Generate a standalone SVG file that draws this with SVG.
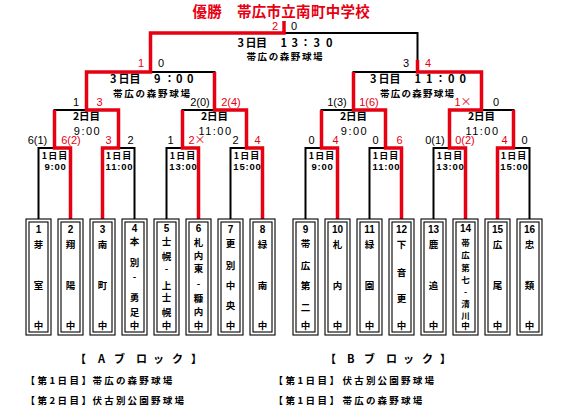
<svg xmlns="http://www.w3.org/2000/svg" width="561" height="413" viewBox="0 0 561 413">
<style>
.bk{fill:none;stroke:#000;stroke-width:2}
.rd{fill:none;stroke:#e60012;stroke-width:3.5;stroke-linejoin:miter}
.box{fill:#fff;stroke:#000;stroke-width:1.1}
.sc{font-family:"Liberation Sans",Arial,sans-serif;font-size:11px;text-anchor:middle;fill:#000}
.jp{font-family:"Noto Sans CJK JP","Noto Sans",sans-serif;font-weight:bold;fill:#000}
.t3{font-size:11px}
.vn{font-size:9.5px}
.d2{font-size:10.5px;text-anchor:middle}
.tm2{font-family:"Liberation Sans",Arial,sans-serif;font-size:11px;text-anchor:middle;letter-spacing:1.5px}
.d1{font-size:9px;text-anchor:middle;letter-spacing:1px}
.tm1{font-family:"Liberation Sans",Arial,sans-serif;font-weight:bold;font-size:9.5px;text-anchor:middle;letter-spacing:0.8px}
.team{font-family:"Noto Sans CJK JP","Noto Sans",sans-serif;font-weight:bold;font-size:9.5px;text-anchor:middle;fill:#000}
.num{font-family:"Liberation Sans",Arial,sans-serif;font-weight:bold;font-size:10px}
.ft{font-size:9.5px;letter-spacing:2.5px}
.fv{font-size:9.5px;letter-spacing:2.2px}
.blk{font-size:11px}
.x{font-family:"Noto Sans CJK JP",sans-serif}
text.r,tspan.r{fill:#e60012}
</style>

<text id="title" class="jp r" x="192.5" y="16.5" style="font-size:14.5px;letter-spacing:0.3px">優勝　帯広市立南町中学校</text>

<g id="connectors">
  <g id="black-lines">
    <path class="bk" d="M38.5 219V148H70.5V219M102.5 219V148H134.5V219M166.5 219V148H198.5V219M230.5 219V148H262.5V219"/>
    <path class="bk" d="M305.5 219V148H337.5V219M369.5 219V148H401.5V219M433.5 219V148H465.5V219M497.5 219V148H529.5V219"/>
    <path class="bk" d="M54.5 148V110H118.5V148M182.5 148V110H246.5V148M321.5 148V110H385.5V148M449.5 148V110H513.5V148"/>
    <path class="bk" d="M86.5 110V72H214.5V110M353.5 110V72H481.5V110"/>
    <path class="bk" d="M150.5 72V33H417.5V72"/>
  </g>
  <g id="red-lines">
    <path class="rd" d="M70.5 219V148H54.5V110"/>
    <path class="rd" d="M102.5 219V148H118.5V110H86.5V72H150.5V33H284V21"/>
    <path class="rd" d="M198.5 219V148H182.5V110"/>
    <path class="rd" d="M262.5 219V148H246.5V110H214.5V72"/>
    <path class="rd" d="M337.5 219V148H321.5V110"/>
    <path class="rd" d="M401.5 219V148H385.5V110H353.5V72"/>
    <path class="rd" d="M465.5 219V148H449.5V110H481.5V72H417.5V60"/>
    <path class="rd" d="M497.5 219V148H513.5V110"/>
  </g>
</g>

<g id="final">
  <text class="jp t3" x="237.5 245.5 256 267 280.5 291.5 300 313.5 326" y="46.5">3日目　13：30</text>
  <text class="jp vn" x="246.5" y="59.5" textLength="76" lengthAdjust="spacing">帯広の森野球場</text>
  <text class="sc r" x="275" y="29.5">2</text>
  <text class="sc" x="294" y="29.5">0</text>
</g>

<g id="semi-a">
  <text class="jp t3" x="110 118.5 129.5 140.5 154 164 176 187" y="83">3日目　9：00</text>
  <text class="jp vn" x="113" y="96.5" textLength="77" lengthAdjust="spacing">帯広の森野球場</text>
  <text class="sc r" x="141" y="67">1</text>
  <text class="sc" x="161" y="67">0</text>
</g>
<g id="semi-b">
  <text class="jp t3" x="370 378.5 389.5 400.5 414.5 426 435 448 459.5" y="83">3日目　11：00</text>
  <text class="jp vn" x="380" y="96.5" textLength="74" lengthAdjust="spacing">帯広の森野球場</text>
  <text class="sc" x="406" y="67">3</text>
  <text class="sc r" x="428" y="67">4</text>
</g>

<g id="r2-a1">
  <text class="jp d2" x="86.5" y="120">2日目</text>
  <text class="tm2" x="87.5" y="134.5">9:00</text>
  <text class="sc" x="76" y="106">1</text>
  <text class="sc r" x="99.5" y="106">3</text>
</g>
<g id="r2-a2">
  <text class="jp d2" x="214.5" y="120">2日目</text>
  <text class="tm2" x="215.5" y="134.5">11:00</text>
  <text class="sc" x="200" y="106">2(0)</text>
  <text class="sc r" x="231" y="106">2(4)</text>
</g>
<g id="r2-b1">
  <text class="jp d2" x="353.5" y="120">2日目</text>
  <text class="tm2" x="354.5" y="134.5">9:00</text>
  <text class="sc" x="337" y="106">1(3)</text>
  <text class="sc r" x="369" y="106">1(6)</text>
</g>
<g id="r2-b2">
  <text class="jp d2" x="481.5" y="120">2日目</text>
  <text class="tm2" x="482.5" y="134.5">11:00</text>
  <text class="sc r" x="463" y="106">1<tspan class="x">×</tspan></text>
  <text class="sc" x="496" y="106">0</text>
</g>

<g id="r1-1">
  <text class="jp d1" x="55" y="159">1日目</text>
  <text class="tm1" x="55.5" y="169.5">9:00</text>
  <text class="sc" x="37.5" y="144">6(1)</text>
  <text class="sc r" x="71" y="144">6(2)</text>
</g>
<g id="r1-2">
  <text class="jp d1" x="119" y="159">1日目</text>
  <text class="tm1" x="119.5" y="169.5">11:00</text>
  <text class="sc r" x="108.5" y="144">3</text>
  <text class="sc" x="130.5" y="144">2</text>
</g>
<g id="r1-3">
  <text class="jp d1" x="183" y="159">1日目</text>
  <text class="tm1" x="183.5" y="169.5">13:00</text>
  <text class="sc" x="170.5" y="144">1</text>
  <text class="sc r" x="197" y="144">2<tspan class="x">×</tspan></text>
</g>
<g id="r1-4">
  <text class="jp d1" x="247" y="159">1日目</text>
  <text class="tm1" x="247.5" y="169.5">15:00</text>
  <text class="sc" x="235.5" y="144">2</text>
  <text class="sc r" x="257.5" y="144">4</text>
</g>
<g id="r1-5">
  <text class="jp d1" x="322" y="159">1日目</text>
  <text class="tm1" x="322.5" y="169.5">9:00</text>
  <text class="sc" x="311.5" y="144">0</text>
  <text class="sc r" x="335.5" y="144">4</text>
</g>
<g id="r1-6">
  <text class="jp d1" x="386" y="159">1日目</text>
  <text class="tm1" x="386.5" y="169.5">11:00</text>
  <text class="sc" x="375.5" y="144">0</text>
  <text class="sc r" x="399.5" y="144">6</text>
</g>
<g id="r1-7">
  <text class="jp d1" x="450" y="159">1日目</text>
  <text class="tm1" x="450.5" y="169.5">13:00</text>
  <text class="sc" x="435" y="144">0(1)</text>
  <text class="sc r" x="465" y="144">0(2)</text>
</g>
<g id="r1-8">
  <text class="jp d1" x="514" y="159">1日目</text>
  <text class="tm1" x="514.5" y="169.5">15:00</text>
  <text class="sc r" x="504.5" y="144">4</text>
  <text class="sc" x="524.5" y="144">0</text>
</g>

<g id="team-1"><rect class="box" x="26" y="219" width="25" height="116"/><rect class="box" x="29" y="222" width="19" height="110"/>
<text class="team"><tspan class="num" x="38.5" y="232.5">1</tspan><tspan x="38.5" y="247.5">芽</tspan><tspan x="38.5" y="288.5">室</tspan><tspan x="38.5" y="328.5">中</tspan></text></g>
<g id="team-2"><rect class="box" x="58" y="219" width="25" height="116"/><rect class="box" x="61" y="222" width="19" height="110"/>
<text class="team"><tspan class="num" x="70.5" y="232.5">2</tspan><tspan x="70.5" y="247.5">翔</tspan><tspan x="70.5" y="288.5">陽</tspan><tspan x="70.5" y="328.5">中</tspan></text></g>
<g id="team-3"><rect class="box" x="90" y="219" width="25" height="116"/><rect class="box" x="93" y="222" width="19" height="110"/>
<text class="team"><tspan class="num" x="102.5" y="232.5">3</tspan><tspan x="102.5" y="247.5">南</tspan><tspan x="102.5" y="288.5">町</tspan><tspan x="102.5" y="328.5">中</tspan></text></g>
<g id="team-4"><rect class="box" x="122" y="219" width="25" height="116"/><rect class="box" x="125" y="222" width="19" height="110"/>
<text class="team"><tspan class="num" x="134.5" y="232">4</tspan><tspan x="134.5" y="245">本</tspan><tspan x="134.5" y="265.5">別</tspan><tspan x="134.5" y="280">-</tspan><tspan x="134.5" y="300.5">勇</tspan><tspan x="134.5" y="315.5">足</tspan><tspan x="134.5" y="328.5">中</tspan></text></g>
<g id="team-5"><rect class="box" x="154" y="219" width="25" height="116"/><rect class="box" x="157" y="222" width="19" height="110"/>
<text class="team"><tspan class="num" x="166.5" y="232">5</tspan><tspan x="166.5" y="244.5">士</tspan><tspan x="166.5" y="259.5">幌</tspan><tspan x="166.5" y="272">-</tspan><tspan x="166.5" y="288.5">上</tspan><tspan x="166.5" y="301">士</tspan><tspan x="166.5" y="315.5">幌</tspan><tspan x="166.5" y="328.5">中</tspan></text></g>
<g id="team-6"><rect class="box" x="186" y="219" width="25" height="116"/><rect class="box" x="189" y="222" width="19" height="110"/>
<text class="team"><tspan class="num" x="198.5" y="232">6</tspan><tspan x="198.5" y="246">札</tspan><tspan x="198.5" y="258.5">内</tspan><tspan x="198.5" y="271.5">東</tspan><tspan x="198.5" y="287">-</tspan><tspan x="198.5" y="301.5">糠</tspan><tspan x="198.5" y="315">内</tspan><tspan x="198.5" y="328.5">中</tspan></text></g>
<g id="team-7"><rect class="box" x="218" y="219" width="25" height="116"/><rect class="box" x="221" y="222" width="19" height="110"/>
<text class="team"><tspan class="num" x="230.5" y="232.5">7</tspan><tspan x="230.5" y="246.5">更</tspan><tspan x="230.5" y="268.5">別</tspan><tspan x="230.5" y="288.5">中</tspan><tspan x="230.5" y="308.5">央</tspan><tspan x="230.5" y="328.5">中</tspan></text></g>
<g id="team-8"><rect class="box" x="250" y="219" width="25" height="116"/><rect class="box" x="253" y="222" width="19" height="110"/>
<text class="team"><tspan class="num" x="262.5" y="232.5">8</tspan><tspan x="262.5" y="247.5">緑</tspan><tspan x="262.5" y="288.5">南</tspan><tspan x="262.5" y="328.5">中</tspan></text></g>
<g id="team-9"><rect class="box" x="293" y="219" width="25" height="116"/><rect class="box" x="296" y="222" width="19" height="110"/>
<text class="team"><tspan class="num" x="305.5" y="232.5">9</tspan><tspan x="305.5" y="246.5">帯</tspan><tspan x="305.5" y="268.5">広</tspan><tspan x="305.5" y="288.5">第</tspan><tspan x="305.5" y="310.5">二</tspan><tspan x="305.5" y="328.5">中</tspan></text></g>
<g id="team-10"><rect class="box" x="325" y="219" width="25" height="116"/><rect class="box" x="328" y="222" width="19" height="110"/>
<text class="team"><tspan class="num" x="337.5" y="232.5">10</tspan><tspan x="337.5" y="247.5">札</tspan><tspan x="337.5" y="288.5">内</tspan><tspan x="337.5" y="328.5">中</tspan></text></g>
<g id="team-11"><rect class="box" x="357" y="219" width="25" height="116"/><rect class="box" x="360" y="222" width="19" height="110"/>
<text class="team"><tspan class="num" x="369.5" y="232.5">11</tspan><tspan x="369.5" y="247.5">緑</tspan><tspan x="369.5" y="288.5">園</tspan><tspan x="369.5" y="328.5">中</tspan></text></g>
<g id="team-12"><rect class="box" x="389" y="219" width="25" height="116"/><rect class="box" x="392" y="222" width="19" height="110"/>
<text class="team"><tspan class="num" x="401.5" y="232.5">12</tspan><tspan x="401.5" y="247.5">下</tspan><tspan x="401.5" y="275.5">音</tspan><tspan x="401.5" y="301.5">更</tspan><tspan x="401.5" y="328.5">中</tspan></text></g>
<g id="team-13"><rect class="box" x="421" y="219" width="25" height="116"/><rect class="box" x="424" y="222" width="19" height="110"/>
<text class="team"><tspan class="num" x="433.5" y="232.5">13</tspan><tspan x="433.5" y="247.5">鹿</tspan><tspan x="433.5" y="288.5">追</tspan><tspan x="433.5" y="328.5">中</tspan></text></g>
<g id="team-14"><rect class="box" x="453" y="219" width="25" height="116"/><rect class="box" x="456" y="222" width="19" height="110"/>
<text class="team" style="font-size:8.5px"><tspan class="num" x="465.5" y="232">14</tspan><tspan x="465.5" y="245.5">帯</tspan><tspan x="465.5" y="258">広</tspan><tspan x="465.5" y="270.5">第</tspan><tspan x="465.5" y="283">七</tspan><tspan x="465.5" y="294.5">-</tspan><tspan x="465.5" y="306.5">清</tspan><tspan x="465.5" y="318.5">川</tspan><tspan x="465.5" y="329">中</tspan></text></g>
<g id="team-15"><rect class="box" x="485" y="219" width="25" height="116"/><rect class="box" x="488" y="222" width="19" height="110"/>
<text class="team"><tspan class="num" x="497.5" y="232.5">15</tspan><tspan x="497.5" y="247.5">広</tspan><tspan x="497.5" y="288.5">尾</tspan><tspan x="497.5" y="328.5">中</tspan></text></g>
<g id="team-16"><rect class="box" x="517" y="219" width="25" height="116"/><rect class="box" x="520" y="222" width="19" height="110"/>
<text class="team"><tspan class="num" x="529.5" y="232.5">16</tspan><tspan x="529.5" y="247.5">忠</tspan><tspan x="529.5" y="288.5">類</tspan><tspan x="529.5" y="328.5">中</tspan></text></g>

<g id="legend">
  <text class="jp blk" x="75 98 114 136 153 172 191" y="363">【Aブロック】</text>
  <text class="jp blk" x="325 347 364 386 403 422 440" y="363">【Bブロック】</text>
  <text class="jp ft" x="25.5" y="384">【第1日目】<tspan class="fv" x="92.5">帯広の森野球場</tspan></text>
  <text class="jp ft" x="25.5" y="403.5">【第2日目】<tspan class="fv" x="92.5">伏古別公園野球場</tspan></text>
  <text class="jp ft" x="273.5" y="384">【第1日目】<tspan class="fv" x="342.5">伏古別公園野球場</tspan></text>
  <text class="jp ft" x="273.5" y="403.5">【第1日目】<tspan class="fv" x="342.5">帯広の森野球場</tspan></text>
</g>
</svg>
